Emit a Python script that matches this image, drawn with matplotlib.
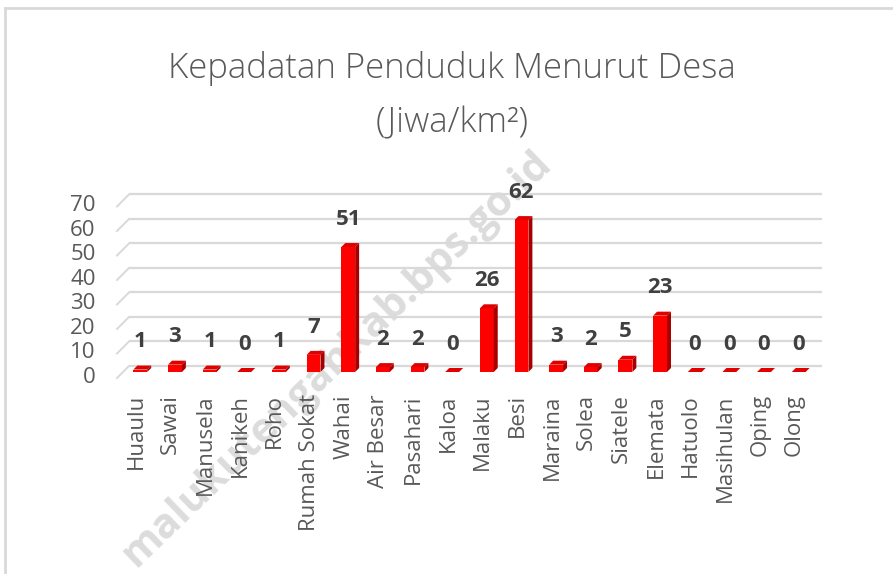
import matplotlib
matplotlib.use("Agg")
import matplotlib.pyplot as plt
from matplotlib.patches import Polygon
from matplotlib.lines import Line2D

# data
desa = ["Huaulu", "Sawai", "Manusela", "Kanikeh", "Roho", "Rumah Sokat", "Wahai",
        "Air Besar", "Pasahari", "Kaloa", "Malaku", "Besi", "Maraina", "Solea",
        "Siatele", "Elemata", "Hatuolo", "Masihulan", "Oping", "Olong"]
kepadatan = [1, 3, 1, 0, 1, 7, 51, 2, 2, 0, 26, 62, 3, 2, 5, 23, 0, 0, 0, 0]
y_ticks = [0, 10, 20, 30, 40, 50, 60, 70]

judul = "Kepadatan Penduduk Menurut Desa"
satuan = "(Jiwa/km²)"

FONT = ["Open Sans", "DejaVu Sans"]
GREY = "#595959"

fig = plt.figure(figsize=(8.93, 5.74), dpi=100)
fig.patch.set_facecolor("white")

# axes placed so that the bar plane maps to the pixel layout of the reference
ax = fig.add_axes([0.1222, 0.3263, 0.8071, 0.3671])
ax.set_xlim(-0.9, 19.9)
ax.set_ylim(-6, 80)
ax.axis("off")
ax.patch.set_visible(False)

# pseudo 3D depth (wall offset and bar depth, in data units)
dx, dy = 0.173, 2.45
bx, by = 0.115, 1.63
w = 0.40
x0, x1 = -0.5, 19.5

# back wall gridlines + little diagonal stubs on the left side wall
for v in y_ticks:
    ax.plot([x0 + dx, x1 + dx], [v + dy, v + dy], color="#d9d9d9", lw=1.6, zorder=1,
            solid_capstyle="butt")
    ax.plot([x0 - dx, x0 + dx], [v - dy, v + dy], color="#d9d9d9", lw=1.4, zorder=1)
    ax.text(x0 - dx - 0.62, v - dy + 0.4, str(v), ha="right", va="center",
            fontsize=16, color=GREY, family=FONT)

# bars: front face with ax.bar, top and side faces from the same values
xs = list(range(len(desa)))
ax.bar(xs, kepadatan, width=w, color="#ff0000", zorder=3, linewidth=0)
for i, v in zip(xs, kepadatan):
    l, r = i - w / 2, i + w / 2
    top = Polygon([(l, v), (r, v), (r + bx, v + by), (l + bx, v + by)],
                  closed=True, facecolor="#e00000", edgecolor="none", zorder=3)
    side = Polygon([(r, 0), (r + bx, by), (r + bx, v + by), (r, v)],
                   closed=True, facecolor="#a80000", edgecolor="none", zorder=3)
    ax.add_patch(top)
    ax.add_patch(side)
    ax.annotate(str(v), (i, v), xytext=(0, 20), textcoords="offset points",
                ha="center", va="center", fontsize=16, fontweight="bold",
                color="#404040", family=FONT, zorder=4)

# category labels, rotated
for i, name in zip(xs, desa):
    ax.annotate(name, (i, 0), xytext=(-3, -16), textcoords="offset points",
                ha="center", va="top", rotation=90, fontsize=16, color=GREY,
                family=FONT)

# title
fig.text(0.506, 0.880, judul, ha="center", va="center", fontsize=25, color=GREY,
         family=FONT, fontweight="light")
fig.text(0.506, 0.786, satuan, ha="center", va="center", fontsize=25, color=GREY,
         family=FONT, fontweight="light")

# watermark
fig.text(0.378, 0.375, "malukutengahkab.bps.go.id", ha="center", va="center",
         rotation=44, fontsize=30, fontweight="bold", color="#dcdcdc",
         family=FONT, zorder=-1)

# chart frame (top and left edges visible)
fig.add_artist(Line2D([5 / 893, 1.0], [1 - 8 / 574, 1 - 8 / 574], color="#d9d9d9", lw=2))
fig.add_artist(Line2D([5 / 893, 5 / 893], [0.0, 1 - 8 / 574], color="#d9d9d9", lw=2))

fig.savefig("out.png", dpi=100)
